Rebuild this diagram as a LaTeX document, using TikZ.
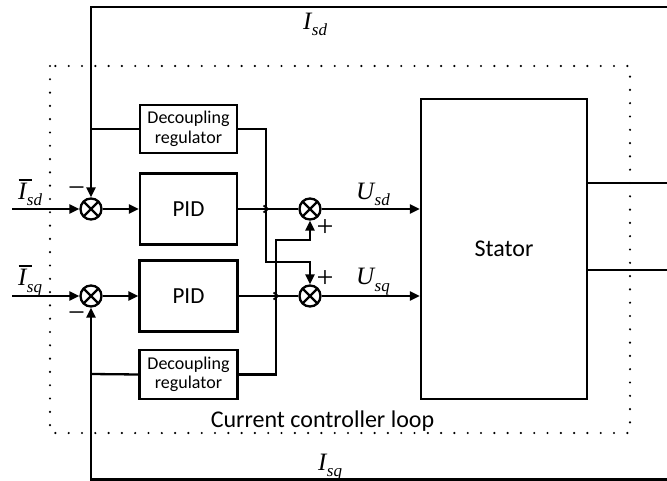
\documentclass[tikz,border=0pt]{standalone}
\usepackage{fontspec}
\setmainfont{Carlito}
\newfontfamily\tnr{Liberation Serif}
\usetikzlibrary{arrows.meta}
\newcommand\vlab[2]{{\fontsize{25}{25}\selectfont\tnr\itshape #1}\kern0.5pt\raisebox{-6pt}{\fontsize{17}{17}\selectfont\tnr\itshape #2}}
\begin{document}
\begin{tikzpicture}[x=1pt,y=-1pt,
  line width=2.3pt,
  blk/.style={draw,rectangle,line width=2.3pt,inner sep=0pt},
  sumj/.style={draw,circle,line width=2.3pt,minimum size=21pt,inner sep=0pt,
    path picture={\draw[line width=2.3pt]
      (path picture bounding box.north west)--(path picture bounding box.south east)
      (path picture bounding box.north east)--(path picture bounding box.south west);}},
  arr/.style={-{Triangle[length=10pt,width=9pt]}},
  lab/.style={anchor=base west,inner sep=0pt},
  sgn/.style={inner sep=0pt,font=\fontsize{30}{30}\selectfont\tnr},
  ovbar/.style={line width=1.4pt},
  loopbox/.style={line width=2.4pt,line cap=round,dash pattern=on 0pt off 13.3pt}
]
\useasboundingbox (0,0) rectangle (667,481);
% dotted loop
\draw[loopbox] (50,66) rectangle (630,433);
% blocks
\node[blk,minimum width=97pt,minimum height=48pt,align=center,
  font=\fontsize{18}{19.5}\selectfont] (dec1) at (188.5,129) {Decoupling\\regulator};
\node[blk,minimum width=97pt,minimum height=71pt,font=\fontsize{23}{23}\selectfont] (pid1) at (188.5,209) {PID};
\node[blk,minimum width=98pt,minimum height=71pt,font=\fontsize{23}{23}\selectfont] (pid2) at (188.5,296) {PID};
\node[blk,minimum width=98pt,minimum height=49pt,align=center,
  font=\fontsize{18}{19.5}\selectfont] (dec2) at (188.5,374.5) {Decoupling\\regulator};
\node[blk,minimum width=166pt,minimum height=300pt,font=\fontsize{24}{24}\selectfont] (st) at (504,249) {Stator};
% summing junctions
\node[sumj] (s1) at (91,209) {};
\node[sumj] (s2) at (91,296) {};
\node[sumj] (s3) at (310,209) {};
\node[sumj] (s4) at (310,296) {};
% coordinates
\coordinate (in1) at (12,209);
\coordinate (in2) at (12,296);
\coordinate (tr) at (667,7);
\coordinate (tl) at (91,7);
\coordinate (br) at (667,479.5);
\coordinate (bl) at (91,479.5);
\coordinate (o1) at (667,183);
\coordinate (o2) at (667,270);
\coordinate (b1) at (91,129);
\coordinate (b2) at (91,374);
% inputs
\draw[arr] (in1) -- (s1);
\draw[arr] (in2) -- (s2);
\draw[arr] (s1) -- (pid1);
\draw[arr] (s2) -- (pid2);
% PID to sums (with small jump marks)
\draw (pid1.east) -- (s3.west);
\draw[line width=1.8pt] (263.5,205.5) -- (268,209) -- (263.5,212.5);
\draw (pid2.east) -- (s4.west);
\draw[line width=1.8pt] (273.5,292.5) -- (278,296) -- (273.5,299.5);
% sums to stator
\draw[arr] (s3) -- (s3 -| st.west);
\draw[arr] (s4) -- (s4 -| st.west);
% feedback
\draw[arr] (tr) -- (tl) -- (s1.north);
\draw (b1) -- (dec1.west);
\draw[arr] (br) -- (bl) -- (s2.south);
\draw (b2) -- (dec2.west);
% decoupling outputs
\draw[arr] (dec1.east) -- (266,129) -- (266,262) -- (310,262) -- (s4.north);
\draw[arr] (dec2.east) -- (276,374.5) -- (276,240) -- (310,240) -- (s3.south);
% stator outputs
\draw (st.east |- o1) -- (o1);
\draw (st.east |- o2) -- (o2);
% signs
\node[sgn] (m1) at (76.5,192) {−};
\node[sgn] (m2) at (76.5,317) {−};
\node[sgn] (p1) at (325,228) {+};
\node[sgn] (p2) at (325,279) {+};
% labels
\node[lab] (lIsd) at (17,200) {\vlab{I}{sd}};
\node[lab] (lIsq) at (17,286) {\vlab{I}{sq}};
\draw[ovbar] ([shift={(1.5,-20)}]lIsd.base west) -- ++(13,0);
\draw[ovbar] ([shift={(1.5,-20)}]lIsq.base west) -- ++(13,0);
\node[lab] (lUsd) at (355,200) {\vlab{U}{sd}};
\node[lab] (lUsq) at (355,285) {\vlab{U}{sq}};
\node[lab] (lfd) at (302,30) {\vlab{I}{sd}};
\node[lab] (lfq) at (317,470) {\vlab{I}{sq}};
\node[anchor=base,inner sep=0pt,font=\fontsize{24}{24}\selectfont] (cl) at (322.5,427) {Current controller loop};
\end{tikzpicture}
\end{document}
